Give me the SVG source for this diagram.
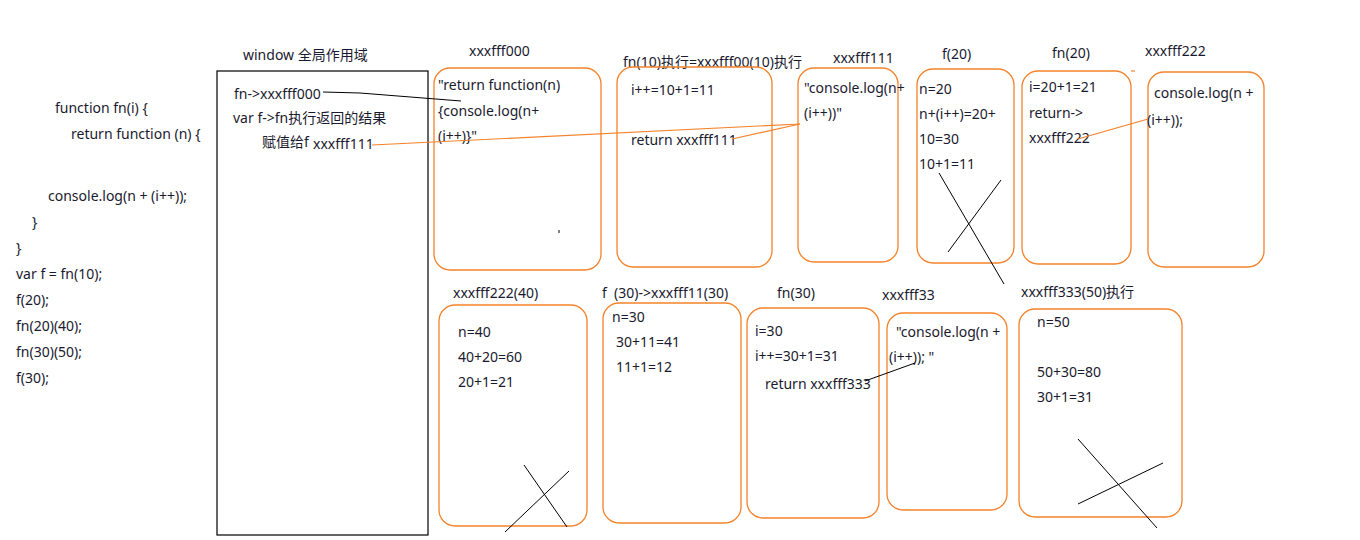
<svg xmlns="http://www.w3.org/2000/svg" width="1360" height="540" viewBox="0 0 1360 540">
<style>
text{font-family:"Noto Sans","Noto Sans CJK SC",sans-serif;font-size:14px;fill:#1a1a2e}
.box{fill:none;stroke:#f5822a;stroke-width:1.3}
.win{fill:none;stroke:#000;stroke-width:1.2}
.ol{fill:none;stroke:#f5822a;stroke-width:1.2}
.bl{fill:none;stroke:#000;stroke-width:1}
</style>
<rect width="1360" height="540" fill="#fff"/>
<g id="code">
<text x="55" y="113">function fn(i) {</text>
<text x="71" y="139">return function (n) {</text>
<text x="48" y="201">console.log(n + (i++));</text>
<text x="32" y="227">}</text>
<text x="16" y="253">}</text>
<text x="16" y="279">var f = fn(10);</text>
<text x="16" y="305">f(20);</text>
<text x="16" y="331">fn(20)(40);</text>
<text x="16" y="357">fn(30)(50);</text>
<text x="16" y="383">f(30);</text>
</g>
<g id="window">
<text x="243" y="60">window 全局作用域</text>
<rect class="win" x="217" y="71" width="211" height="464"/>
<text x="234" y="99">fn-&gt;xxxfff000</text>
<text x="233" y="123">var f-&gt;fn执行返回的结果</text>
<text x="262" y="147">赋值给f</text>
<text x="313" y="149">xxxfff111</text>
</g>
<g id="box1">
<text x="469" y="56">xxxfff000</text>
<rect class="box" x="434" y="68" width="167" height="202" rx="16"/>
<text x="438" y="90">"return function(n)</text>
<text x="438" y="116">{console.log(n+</text>
<text x="438" y="141">(i++)}"</text>
<line class="bl" x1="559" y1="230" x2="559" y2="233"/>
</g>
<g id="box2">
<text x="623" y="67">fn(10)执行=xxxfff00(10)执行</text>
<rect class="box" x="617" y="67" width="155" height="200" rx="16"/>
<text x="631" y="95">i++=10+1=11</text>
<text x="631" y="145">return xxxfff111</text>
</g>
<g id="box3">
<text x="833" y="63">xxxfff111</text>
<rect class="box" x="798" y="68" width="100" height="194" rx="16"/>
<text x="804" y="93">"console.log(n+</text>
<text x="804" y="118">(i++))"</text>
</g>
<g id="box4">
<text x="942" y="59">f(20)</text>
<rect class="box" x="917" y="69" width="97" height="194" rx="16"/>
<text x="919" y="94">n=20</text>
<text x="919" y="119">n+(i++)=20+</text>
<text x="919" y="144">10=30</text>
<text x="919" y="169">10+1=11</text>
<line class="bl" x1="939" y1="173" x2="1004" y2="284"/>
<line class="bl" x1="1001" y1="180" x2="948" y2="252"/>
</g>
<g id="box5">
<text x="1052" y="58">fn(20)</text>
<rect class="box" x="1022" y="71" width="109" height="193" rx="16"/>
<text x="1029" y="92">i=20+1=21</text>
<text x="1029" y="118">return-&gt;</text>
<text x="1029" y="143">xxxfff222</text>
<line class="ol" x1="1131" y1="71" x2="1135" y2="71"/>
</g>
<g id="box6">
<text x="1145" y="56">xxxfff222</text>
<rect class="box" x="1148" y="72" width="116" height="195" rx="16"/>
<text x="1154" y="98">console.log(n +</text>
<text x="1147" y="125">(i++));</text>
</g>
<g id="box7">
<text x="453" y="298">xxxfff222(40)</text>
<rect class="box" x="439" y="305" width="148" height="221" rx="16"/>
<text x="458" y="337">n=40</text>
<text x="458" y="362">40+20=60</text>
<text x="458" y="387">20+1=21</text>
<line class="bl" x1="524" y1="465" x2="567" y2="527"/>
<line class="bl" x1="569" y1="471" x2="505" y2="532"/>
</g>
<g id="box8">
<text x="602" y="298">f&#160; (30)-&gt;xxxfff11(30)</text>
<rect class="box" x="603" y="303" width="138" height="220" rx="16"/>
<text x="612" y="322">n=30</text>
<text x="616" y="347">30+11=41</text>
<text x="616" y="372">11+1=12</text>
</g>
<g id="box9">
<text x="777" y="298">fn(30)</text>
<rect class="box" x="747" y="308" width="132" height="210" rx="16"/>
<text x="755" y="336">i=30</text>
<text x="755" y="361">i++=30+1=31</text>
<text x="765" y="389">return xxxfff333</text>
</g>
<g id="box10">
<text x="882" y="300">xxxfff33</text>
<rect class="box" x="887" y="313" width="120" height="197" rx="16"/>
<text x="896" y="337">"console.log(n +</text>
<text x="889" y="362">(i++)); "</text>
</g>
<g id="box11">
<text x="1021" y="297">xxxfff333(50)执行</text>
<rect class="box" x="1019" y="309" width="163" height="208" rx="16"/>
<text x="1037" y="327">n=50</text>
<text x="1037" y="377">50+30=80</text>
<text x="1037" y="402">30+1=31</text>
<line class="bl" x1="1078" y1="439" x2="1157" y2="528"/>
<line class="bl" x1="1163" y1="463" x2="1078" y2="504"/>
</g>
<g id="connectors">
<polyline class="bl" points="323,92 360,93 461,101"/>
<line class="ol" x1="372" y1="145" x2="800" y2="124"/>
<line class="ol" x1="732" y1="139" x2="800" y2="124"/>
<line class="ol" x1="1078" y1="139" x2="1148" y2="119"/>
<line class="bl" x1="865" y1="381" x2="915" y2="363"/>
</g>
</svg>
